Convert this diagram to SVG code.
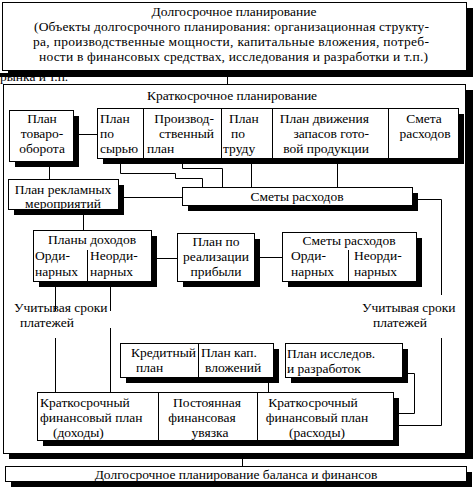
<svg xmlns="http://www.w3.org/2000/svg" width="473" height="488" viewBox="0 0 473 488">
<style>
.box{fill:#fff;stroke:#000;stroke-width:1}
.sh{fill:#000}
.t{font-family:"Liberation Serif","Times New Roman","DejaVu Serif",serif;font-size:13.5px;fill:#000}
.c{text-anchor:middle}
.e{text-anchor:end}
.ln{fill:none;stroke:#000;stroke-width:1}
</style>
<rect width="473" height="488" fill="#fff"/>
<g id="overflow-text">
<text class="t" x="0" y="81">рынка и т.п.</text>
</g>
<g id="long-term">
<rect class="sh" x="8" y="8" width="465" height="69"/>
<rect class="sh" x="0" y="73" width="10" height="4"/>
<rect class="box" x="2.5" y="2.5" width="464" height="68"/>
<text class="t c" x="234" y="16">Долгосрочное планирование</text>
<text class="t" x="34" y="31" textLength="395" lengthAdjust="spacing">(Объекты долгосрочного планирования: организационная структу-</text>
<text class="t" x="33" y="46" textLength="396" lengthAdjust="spacing">ра, производственные мощности, капитальные  вложения,  потреб-</text>
<text class="t" x="39" y="61" textLength="389" lengthAdjust="spacing">ности в финансовых средствах, исследования и разработки и т.п.)</text>
</g>
<g id="short-term">
<rect class="sh" x="9" y="90" width="464" height="369"/>
<rect class="box" x="3.5" y="84.5" width="462" height="369"/>
<text class="t c" x="232" y="100">Краткосрочное планирование</text>
</g>
<g id="connectors">
<path class="ln" d="M227.5,77 V84"/>
<path class="ln" d="M79,134.5 H97"/>
<path class="ln" d="M49.5,167 V179"/>
<path class="ln" d="M120.5,164 V173.5 H175.5 V178.5 H202.5 V187"/>
<path class="ln" d="M182.5,164 V168.5 H222.5 V187"/>
<path class="ln" d="M251.5,164 V187"/>
<path class="ln" d="M337.5,164 V187"/>
<path class="ln" d="M124,197.5 H182"/>
<path class="ln" d="M418,199.5 H441.5 V295"/>
<path class="ln" d="M441.5,338 V425.5 H398"/>
<path class="ln" d="M83.5,215 V230"/>
<path class="ln" d="M157,258.5 H177"/>
<path class="ln" d="M260,257.5 H282"/>
<path class="ln" d="M55.5,287 V311 M55.5,338 V392"/>
<path class="ln" d="M110.5,287 V311 M110.5,328 V392"/>
<path class="ln" d="M408,373.5 H414.5 V413.5 H398"/>
<path class="ln" d="M268.5,383 V392"/>
<path class="ln" d="M242.5,459 V466"/>
</g>
<g id="plan-tovarooborota">
<rect class="sh" x="15" y="116" width="64" height="51"/>
<rect class="box" x="9.5" y="110.5" width="64" height="51"/>
<text class="t c" x="42" y="123">План</text>
<text class="t c" x="42" y="138">товаро-</text>
<text class="t c" x="42" y="153">оборота</text>
</g>
<g id="row-plans">
<rect class="sh" x="103" y="114" width="361" height="50"/>
<rect class="box" x="97.5" y="108.5" width="361" height="50"/>
<path class="ln" d="M143.5,108.5 V158.5 M221.5,108.5 V158.5 M272.5,108.5 V158.5 M388.5,108.5 V158.5"/>
<text class="t" x="100" y="123">План</text>
<text class="t" x="100" y="138">по</text>
<text class="t" x="100" y="153">сырью</text>
<text class="t e" x="214" y="123">Производ-</text>
<text class="t e" x="214" y="138">ственный</text>
<text class="t" x="147" y="153">план</text>
<text class="t" x="229" y="123">План</text>
<text class="t" x="231" y="138">по</text>
<text class="t" x="223" y="153">труду</text>
<text class="t e" x="369" y="123">План движения</text>
<text class="t e" x="369" y="138">запасов гото-</text>
<text class="t e" x="369" y="153">вой продукции</text>
<text class="t c" x="424" y="123">Смета</text>
<text class="t c" x="425" y="138">расходов</text>
</g>
<g id="plan-reklamnyh">
<rect class="sh" x="14" y="185" width="110" height="30"/>
<rect class="box" x="8.5" y="179.5" width="110" height="30"/>
<text class="t c" x="63" y="194">План рекламных</text>
<text class="t c" x="63" y="208">мероприятий</text>
</g>
<g id="smety-rashodov-1">
<rect class="sh" x="188" y="193" width="230" height="18"/>
<rect class="box" x="182.5" y="187.5" width="230" height="18"/>
<text class="t c" x="297" y="201">Сметы расходов</text>
</g>
<g id="plany-dohodov">
<rect class="sh" x="39" y="236" width="118" height="51"/>
<rect class="box" x="33.5" y="230.5" width="118" height="51"/>
<path class="ln" d="M87.5,250 V281.5"/>
<text class="t c" x="92" y="244">Планы доходов</text>
<text class="t" x="35" y="260">Орди-</text>
<text class="t" x="35" y="276">нарных</text>
<text class="t" x="90" y="260">Неорди-</text>
<text class="t" x="90" y="276">нарных</text>
</g>
<g id="plan-realizacii">
<rect class="sh" x="183" y="239" width="77" height="48"/>
<rect class="box" x="177.5" y="233.5" width="77" height="48"/>
<text class="t c" x="216" y="246">План по</text>
<text class="t c" x="216" y="261">реализации</text>
<text class="t c" x="216" y="276">прибыли</text>
</g>
<g id="smety-rashodov-2">
<rect class="sh" x="288" y="238" width="134" height="49"/>
<rect class="box" x="282.5" y="232.5" width="134" height="49"/>
<path class="ln" d="M348.5,250 V281.5"/>
<text class="t c" x="349" y="245">Сметы расходов</text>
<text class="t" x="291" y="260">Орди-</text>
<text class="t" x="291" y="276">нарных</text>
<text class="t" x="354" y="260">Неорди-</text>
<text class="t" x="354" y="276">нарных</text>
</g>
<g id="label-left">
<text class="t" x="14" y="312">Учитывая сроки</text>
<text class="t" x="20" y="327">платежей</text>
</g>
<g id="label-right">
<text class="t" x="362" y="312">Учитывая сроки</text>
<text class="t" x="373" y="327">платежей</text>
</g>
<g id="kredit-kap">
<rect class="sh" x="126" y="349" width="153" height="34"/>
<rect class="box" x="120.5" y="343.5" width="153" height="34"/>
<path class="ln" d="M198.5,343.5 V377.5"/>
<text class="t e" x="196" y="357">Кредитный</text>
<text class="t" x="136" y="372">план</text>
<text class="t" x="201" y="357">План кап.</text>
<text class="t" x="205" y="372">вложений</text>
</g>
<g id="plan-issledov">
<rect class="sh" x="291" y="349" width="117" height="34"/>
<rect class="box" x="285.5" y="343.5" width="117" height="34"/>
<text class="t" x="287" y="358">План исследов.</text>
<text class="t" x="287" y="373">и разработок</text>
</g>
<g id="fin-plan">
<rect class="sh" x="43" y="398" width="356" height="48"/>
<rect class="box" x="37.5" y="392.5" width="356" height="48"/>
<path class="ln" d="M158.5,392.5 V440.5 M257.5,392.5 V440.5"/>
<text class="t" x="40" y="407">Краткосрочный</text>
<text class="t" x="40" y="422">финансовый план</text>
<text class="t" x="53" y="437">(доходы)</text>
<text class="t c" x="207" y="407">Постоянная</text>
<text class="t c" x="202" y="422">финансовая</text>
<text class="t c" x="210" y="437">увязка</text>
<text class="t c" x="313" y="407">Краткосрочный</text>
<text class="t c" x="317" y="422">финансовый план</text>
<text class="t c" x="317" y="437">(расходы)</text>
</g>
<g id="long-term-balance">
<rect class="sh" x="11" y="472" width="461" height="15"/>
<rect class="box" x="5.5" y="466.5" width="461" height="15"/>
<text class="t c" x="236" y="479">Долгосрочное планирование баланса и финансов</text>
</g>
</svg>
